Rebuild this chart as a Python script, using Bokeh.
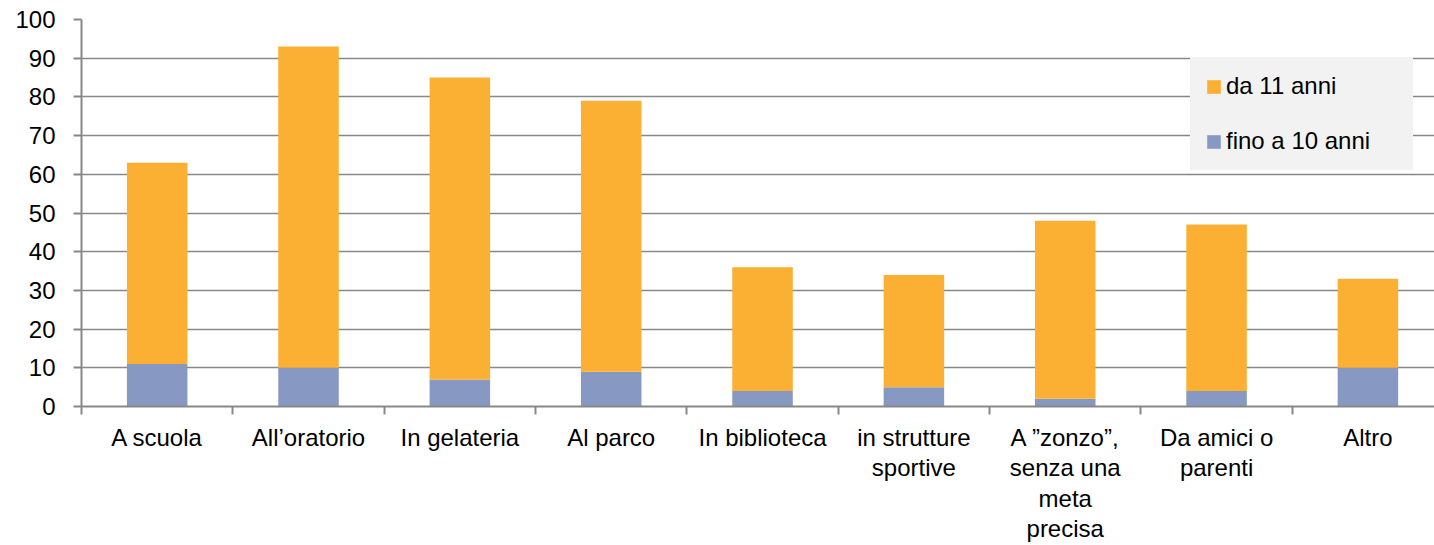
from bokeh.plotting import figure
from bokeh.models import (ColumnDataSource, Range1d, FixedTicker, Legend, LegendItem)
from bokeh.embed import file_html
from bokeh.resources import INLINE

categories = ["A scuola", "All\u2019oratorio", "In gelateria", "Al parco", "In biblioteca",
              "in strutture\nsportive", "A \u201dzonzo\u201d,\nsenza una\nmeta\nprecisa",
              "Da amici o\nparenti", "Altro"]
fino_10 = [11, 10, 7, 9, 4, 5, 2, 4, 10]
da_11 = [52, 83, 78, 70, 32, 29, 46, 43, 23]
series_labels = ["fino a 10 anni", "da 11 anni"]
y_ticks = [0, 10, 20, 30, 40, 50, 60, 70, 80, 90, 100]

ORANGE = "#FBB034"
BLUE = "#8799C3"
GRID = "#888888"
LEGEND_BG = "#F2F2F2"
FONT = "Liberation Sans"

xs = list(range(len(categories)))
src = ColumnDataSource(dict(x=xs, fino_10=fino_10, da_11=da_11))

p = figure(width=1434, height=545, output_backend="svg", toolbar_location=None,
           x_range=Range1d(-0.5, 8.44), y_range=Range1d(0, 100),
           min_border_left=81, min_border_right=0, min_border_top=19, min_border_bottom=138)
p.outline_line_color = None
p.background_fill_color = "white"

rs = p.vbar_stack(["fino_10", "da_11"], x="x", width=0.4, source=src,
                  color=[BLUE, ORANGE], line_color=None)

# y axis
ya = p.yaxis[0]
ya.ticker = FixedTicker(ticks=y_ticks)
ya.axis_line_color = GRID
ya.axis_line_width = 2
ya.major_tick_line_color = GRID
ya.major_tick_line_width = 2
ya.major_tick_out = 8
ya.major_tick_in = 0
ya.minor_tick_line_color = None
ya.major_label_standoff = 18
ya.major_label_text_font = FONT
ya.major_label_text_font_size = "24px"
ya.major_label_text_color = "black"

# x axis
xa = p.xaxis[0]
xa.ticker = FixedTicker(ticks=xs, minor_ticks=[i - 0.5 for i in range(len(categories) + 1)])
xa.major_label_overrides = {i: c for i, c in zip(xs, categories)}
xa.axis_line_color = GRID
xa.axis_line_width = 2
xa.major_tick_line_color = None
xa.major_tick_out = 0
xa.major_tick_in = 0
xa.minor_tick_line_color = GRID
xa.minor_tick_line_width = 2
xa.minor_tick_out = 8
xa.minor_tick_in = 0
xa.major_label_standoff = 9
xa.major_label_text_font = FONT
xa.major_label_text_font_size = "24px"
xa.major_label_text_color = "black"
xa.major_label_text_line_height = 1.13

p.xgrid.grid_line_color = None
p.ygrid.ticker = FixedTicker(ticks=y_ticks)
p.ygrid.grid_line_color = GRID
p.ygrid.grid_line_width = 1.7

legend = Legend(items=[LegendItem(label=series_labels[1], renderers=[rs[1]]),
                       LegendItem(label=series_labels[0], renderers=[rs[0]])],
                location=(1109, 236), orientation="vertical",
                background_fill_color=LEGEND_BG, background_fill_alpha=1,
                border_line_color=LEGEND_BG, border_line_width=1,
                padding=14, spacing=27,
                glyph_width=17, glyph_height=17, label_standoff=4,
                label_text_font=FONT, label_text_font_size="24px",
                label_text_color="black", label_height=27, label_width=172)
p.add_layout(legend, "center")

open("out.html", "w").write(file_html(p, INLINE))
